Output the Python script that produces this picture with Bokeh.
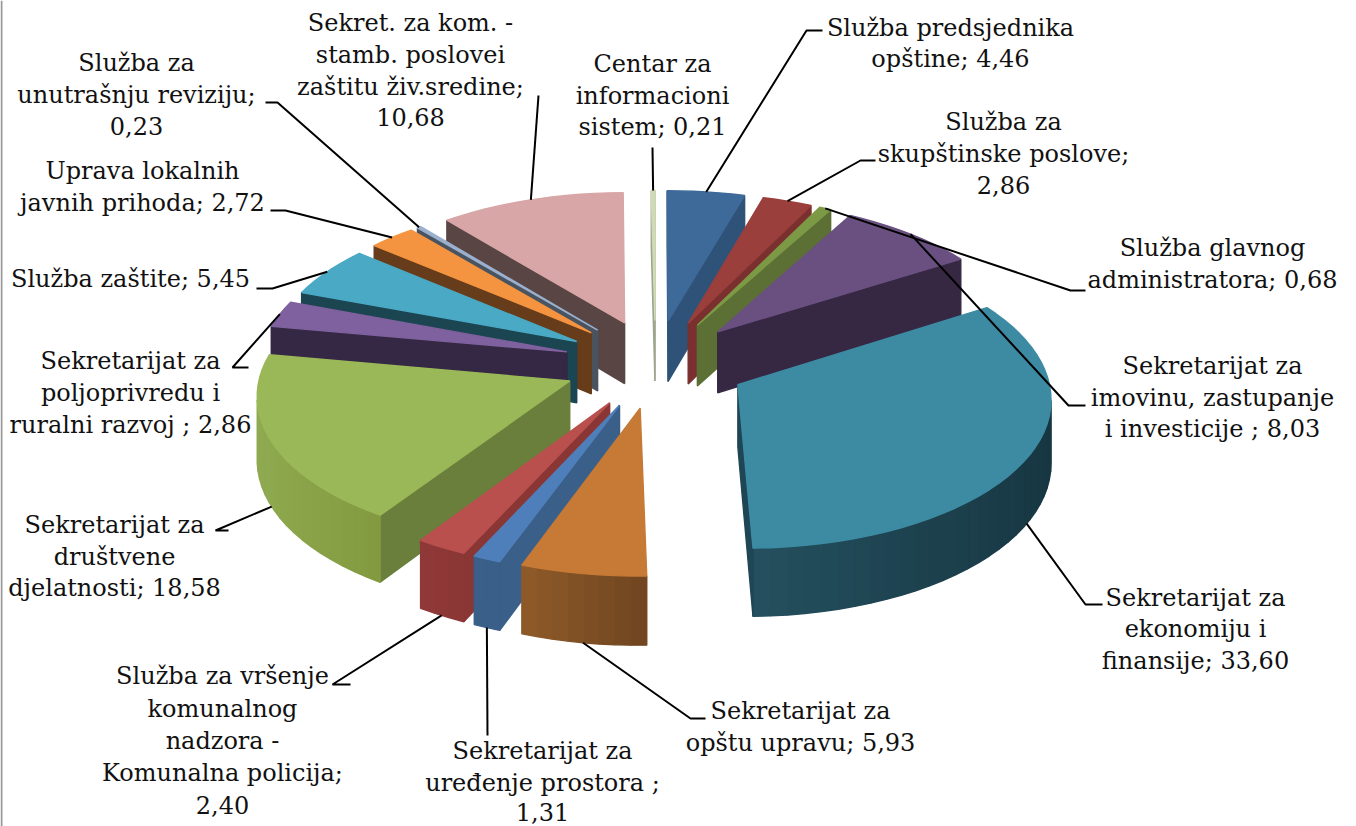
import numpy as np
from bokeh.plotting import figure
from bokeh.models import Range1d
from bokeh.core.properties import value
from bokeh.embed import file_html
from bokeh.resources import INLINE

# ---- data ----
names = ["Služba predsjednika opštine", "Služba za skupštinske poslove", "Služba glavnog administratora",
         "Sekretarijat za imovinu, zastupanje i investicije", "Sekretarijat za ekonomiju i finansije",
         "Sekretarijat za opštu upravu", "Sekretarijat za uređenje prostora",
         "Služba za vršenje komunalnog nadzora - Komunalna policija", "Sekretarijat za društvene djelatnosti",
         "Sekretarijat za poljoprivredu i ruralni razvoj", "Služba zaštite", "Uprava lokalnih javnih prihoda",
         "Služba za unutrašnju reviziju", "Sekret. za kom. - stamb. poslovei zaštitu živ.sredine",
         "Centar za informacioni sistem"]
values = [4.46, 2.86, 0.68, 8.03, 33.60, 5.93, 1.31, 2.40, 18.58, 2.86, 5.45, 2.72, 0.23, 10.68, 0.21]
top_colors = ["#3E6A9A", "#9A3F3C", "#7C9A45", "#6A5080", "#3D8BA3", "#C67A36", "#4F7FBA", "#B9504E",
              "#9BB858", "#7E619E", "#4AA9C4", "#F59440", "#9BB0CE", "#D8A6A6", "#CFDBB5"]
wall_colors = ["#2F5278", "#7A302E", "#5C7035", "#362843", "#1F4655", "#7A4A22", "#3A5F88", "#8A3635",
               "#6A7F3B", "#352844", "#1C4552", "#663C1A", "#4A5460", "#584544", "#9EA58F"]
rim_left = ["#2F5278", "#7A302E", "#5C7035", "#362843", "#25505F", "#8F5A2A", "#3A5F88", "#8F3A38",
            "#8FAA50", "#352844", "#1C4552", "#663C1A", "#4A5460", "#584544", "#9EA58F"]
rim_right = ["#2F5278", "#7A302E", "#5C7035", "#362843", "#173742", "#6F4520", "#3A5F88", "#8A3635",
             "#82993F", "#352844", "#1C4552", "#663C1A", "#4A5460", "#584544", "#9EA58F"]
label_lines = [
    ["Služba predsjednika", "opštine; 4,46"],
    ["Služba za", "skupštinske poslove;", "2,86"],
    ["Služba glavnog", "administratora; 0,68"],
    ["Sekretarijat za", "imovinu, zastupanje", "i investicije ; 8,03"],
    ["Sekretarijat za", "ekonomiju i", "finansije; 33,60"],
    ["Sekretarijat za", "opštu upravu; 5,93"],
    ["Sekretarijat za", "uređenje prostora ;", "1,31"],
    ["Služba za vršenje", "komunalnog", "nadzora -", "Komunalna policija;", "2,40"],
    ["Sekretarijat za", "društvene", "djelatnosti; 18,58"],
    ["Sekretarijat za", "poljoprivredu i", "ruralni razvoj ; 2,86"],
    ["Služba zaštite; 5,45"],
    ["Uprava lokalnih", "javnih prihoda; 2,72"],
    ["Služba za", "unutrašnju reviziju;", "0,23"],
    ["Sekret. za kom. -", "stamb. poslovei", "zaštitu živ.sredine;", "10,68"],
    ["Centar za", "informacioni", "sistem; 0,21"],
]

# ---- layout (screen pixels of the page) ----
CX, CY, B, A, K, EXPL, DEPTH = 655.0, 363.0, 308.0, 147.0, 0.08, 0.30, 62.0
label_x = [950, 1003, 1212, 1212, 1195, 800, 542, 222, 114, 130, 130, 142, 136, 410, 652]
label_y = [[27, 58], [121, 153, 184], [247, 279], [365, 397, 428], [597, 628, 660], [710, 742],
           [750, 782, 811], [675, 708, 740, 772, 804], [524, 556, 587], [360, 392, 424], [278],
           [170, 202], [62, 94, 125], [22, 54, 86, 116], [63, 95, 126]]
leader_elbows = [[(822, 30), (806, 30)], [(875, 160), (860, 160)], [(1085, 290), (1070, 290)],
                 [(1085, 405), (1068, 405)], [(1102, 604), (1085, 604)], [(705, 718), (690, 718)],
                 [(487, 735)], [(350, 684), (332, 684)], [(228, 530), (215, 530)], [(248, 367), (232, 367)],
                 [(256, 288), (272, 288)], [(270, 210), (285, 210)], [(265, 102), (277, 102)],
                 [(538, 95)], [(652, 147)]]


def project(X, Y):
    w = 1 + K * Y
    return CX + B * X / w, CY - A * Y / w, DEPTH / w


def mix(c1, c2, f):
    a = [int(c1[i:i + 2], 16) for i in (1, 3, 5)]
    b = [int(c2[i:i + 2], 16) for i in (1, 3, 5)]
    return "#%02x%02x%02x" % tuple(int(round(p + (q - p) * f)) for p, q in zip(a, b))


edges = np.concatenate([[0], np.cumsum(values)]) / sum(values) * 2 * np.pi
mids = (edges[:-1] + edges[1:]) / 2
order = np.argsort(-np.cos(mids))

xs, ys, fills = [], [], []
anchors = {}
for i in order:
    a0, a1, m = edges[i], edges[i + 1], mids[i]
    ox, oy = EXPL * np.sin(m), EXPL * np.cos(m)
    ts = np.linspace(a0, a1, max(3, int(np.degrees(a1 - a0) / 3) + 2))
    px, py, pd = project(ox + np.sin(ts), oy + np.cos(ts))
    vx, vy, vd = project(ox, oy)
    lo, hi = px.min(), px.max()

    def side(ax, ay, ad, bx, by, bd, col):
        xs.append([ax, bx, bx, ax])
        ys.append([ay, by, by + bd, ay + ad])
        fills.append(col)

    if px[0] < vx:                       # radial wall at the start angle
        side(vx, vy, vd, px[0], py[0], pd[0], wall_colors[i])
    for j in range(len(ts) - 1):         # outer rim
        if px[j + 1] < px[j]:
            f = ((px[j] + px[j + 1]) / 2 - lo) / max(hi - lo, 1)
            side(px[j], py[j], pd[j], px[j + 1], py[j + 1], pd[j + 1], mix(rim_left[i], rim_right[i], f))
    if vx < px[-1]:                      # radial wall at the end angle
        side(px[-1], py[-1], pd[-1], vx, vy, vd, wall_colors[i])
    xs.append([vx, *px])
    ys.append([vy, *py])
    fills.append(top_colors[i])

    ax, ay, ad = project(ox + np.sin(m), oy + np.cos(m))
    anchors[i] = (ax, ay + (ad if np.cos(m) < -0.1 else 0))

p = figure(width=1356, height=826, x_range=Range1d(0, 1356), y_range=Range1d(826, 0),
           output_backend="svg", toolbar_location=None, min_border=0,
           x_axis_location=None, y_axis_location=None, outline_line_color=None)
p.grid.visible = False
p.background_fill_color = "white"
p.patches(xs, ys, fill_color=fills, line_color=fills, line_width=1.4)

lx, ly = [], []
for i, elbow in enumerate(leader_elbows):
    pts = list(elbow) + [anchors[i]]
    lx.append([q[0] for q in pts])
    ly.append([q[1] for q in pts])
p.multi_line(lx, ly, line_color="black", line_width=2)

tx, ty, tt = [], [], []
for i, lines in enumerate(label_lines):
    for s, y in zip(lines, label_y[i]):
        tx.append(label_x[i]); ty.append(y); tt.append(s)
p.text(x=tx, y=ty, text=tt, text_font=value("DejaVu Serif"), text_font_size=value("24px"),
       text_align="center", text_baseline="middle", text_color="#111111")

# frame line at the left edge of the reference picture
p.line(x=[1, 1], y=[0, 826], line_color="#9a9a9a", line_width=2)

open("out.html", "w").write(file_html(p, INLINE))
